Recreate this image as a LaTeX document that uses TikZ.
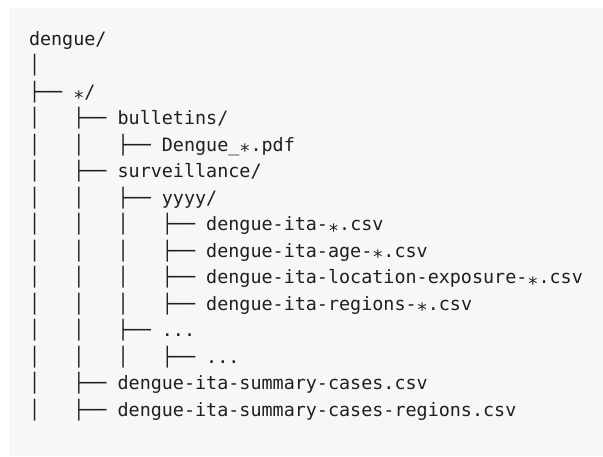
\documentclass[tikz,border=0pt]{standalone}
\usepackage{fontspec}
\newfontfamily\treemono{DejaVu Sans Mono}
\definecolor{panelbg}{HTML}{F7F7F7}
\definecolor{ink}{HTML}{1F1F1F}
\newcommand\lowstar{\raisebox{-0.36em}{*}}
\tikzset{
  treeline/.style={anchor=base west, inner sep=0pt, outer sep=0pt, text=ink,
    font=\treemono\fontsize{18.4}{22}\selectfont}
}
\begin{document}
\begin{tikzpicture}[x=1pt,y=-1pt]
\useasboundingbox (0,0) rectangle (603,456);
\fill[white] (0,0) rectangle (603,456);
\fill[panelbg] (9,8) rectangle (603,456);
\node[treeline] (r0)  at (29,45.0)  {dengue/};
\node[treeline] (r1)  at (29,71.5)  {│};
\node[treeline] (r2)  at (29,98.0)  {├──~\lowstar/};
\node[treeline] (r3)  at (29,124.5) {│~~~├──~bulletins/};
\node[treeline] (r4)  at (29,151.0) {│~~~│~~~├──~Dengue\_\lowstar.pdf};
\node[treeline] (r5)  at (29,177.5) {│~~~├──~surveillance/};
\node[treeline] (r6)  at (29,204.0) {│~~~│~~~├──~yyyy/};
\node[treeline] (r7)  at (29,230.5) {│~~~│~~~│~~~├──~dengue-ita-\lowstar.csv};
\node[treeline] (r8)  at (29,257.0) {│~~~│~~~│~~~├──~dengue-ita-age-\lowstar.csv};
\node[treeline] (r9)  at (29,283.5) {│~~~│~~~│~~~├──~dengue-ita-location-exposure-\lowstar.csv};
\node[treeline] (r10) at (29,310.0) {│~~~│~~~│~~~├──~dengue-ita-regions-\lowstar.csv};
\node[treeline] (r11) at (29,336.5) {│~~~│~~~├──~...};
\node[treeline] (r12) at (29,363.0) {│~~~│~~~│~~~├──~...};
\node[treeline] (r13) at (29,389.5) {│~~~├──~dengue-ita-summary-cases.csv};
\node[treeline] (r14) at (29,416.0) {│~~~├──~dengue-ita-summary-cases-regions.csv};
\end{tikzpicture}
\end{document}
